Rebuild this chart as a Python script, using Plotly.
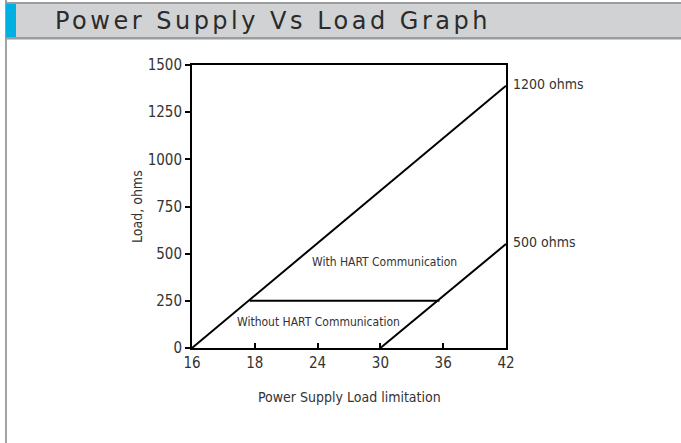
import plotly.graph_objects as go

# ---- data ----
x_tick_labels = ["16", "18", "24", "30", "36", "42"]
x_tick_pos = [0, 1, 2, 3, 4, 5]
y_ticks = [0, 250, 500, 750, 1000, 1250, 1500]

line_1200_x = [0, 5]
line_1200_y = [0, 1390]
line_500_x = [3, 5]
line_500_y = [0, 551]
hart_limit_x = [0.92, 3.94]
hart_limit_y = [250, 250]

W, H = 681, 443
L, R, T, B = 192, 506, 65, 348
FONT = "Liberation Sans Narrow, DejaVu Sans Condensed, Arial Narrow, Liberation Sans, Arial"

def px(x):
    return (x - L) / (R - L)

def py(y):
    return (B - y) / (B - T)

fig = go.Figure()
for xs, ys in [(line_1200_x, line_1200_y), (line_500_x, line_500_y), (hart_limit_x, hart_limit_y)]:
    fig.add_trace(go.Scatter(x=xs, y=ys, mode="lines",
                             line=dict(color="black", width=2), showlegend=False,
                             hoverinfo="skip"))

shapes = [
    dict(type="rect", xref="paper", yref="paper", x0=px(5), x1=px(7), y0=py(0), y1=py(H + 5),
         fillcolor="#a3a4a6", line=dict(width=0), layer="below"),
    dict(type="rect", xref="paper", yref="paper", x0=px(5), x1=px(W + 5), y0=py(2), y1=py(39.5),
         fillcolor="#9b9c9e", line=dict(width=0), layer="below"),
    dict(type="rect", xref="paper", yref="paper", x0=px(7), x1=px(W + 5), y0=py(4), y1=py(37),
         fillcolor="#d1d2d4", line=dict(width=0), layer="below"),
    dict(type="rect", xref="paper", yref="paper", x0=px(6), x1=px(16), y0=py(4), y1=py(37),
         fillcolor="#00b0e2", line=dict(width=0), layer="below"),
]

annotations = [
    dict(text='<span style="letter-spacing:3.5px">Power Supply Vs Load Graph</span>',
         xref="paper", yref="paper",
         x=px(53), y=py(21), xanchor="left", yanchor="middle", showarrow=False,
         font=dict(family="DejaVu Sans, Verdana", size=24, color="#2b2b2b")),
    dict(text="1200 ohms", xref="paper", yref="paper", x=px(511), y=py(84),
         xanchor="left", yanchor="middle", showarrow=False,
         font=dict(family=FONT, size=14, color="#333")),
    dict(text="500 ohms", xref="paper", yref="paper", x=px(511), y=py(242),
         xanchor="left", yanchor="middle", showarrow=False,
         font=dict(family=FONT, size=14, color="#333")),
    dict(text="With HART Communication", xref="paper", yref="paper", x=px(384), y=py(262),
         xanchor="center", yanchor="middle", showarrow=False,
         font=dict(family=FONT, size=12, color="#333")),
    dict(text="Without HART Communication", xref="paper", yref="paper", x=px(318), y=py(322),
         xanchor="center", yanchor="middle", showarrow=False,
         font=dict(family=FONT, size=12, color="#333")),
    dict(text="Power Supply Load limitation", xref="paper", yref="paper", x=px(349), y=py(397),
         xanchor="center", yanchor="middle", showarrow=False,
         font=dict(family=FONT, size=14, color="#333")),
    dict(text="Load, ohms", xref="paper", yref="paper", x=px(137), y=py(207),
         xanchor="center", yanchor="middle", showarrow=False, textangle=-90,
         font=dict(family=FONT, size=14, color="#333")),
]

fig.update_layout(
    width=W, height=H,
    margin=dict(l=L, r=W - R, t=T, b=H - B),
    paper_bgcolor="white", plot_bgcolor="white",
    shapes=shapes, annotations=annotations,
    showlegend=False,
    xaxis=dict(range=[0, 5], tickvals=x_tick_pos, ticktext=x_tick_labels,
               ticks="inside", ticklen=5, tickwidth=2, tickcolor="black",
               showline=True, linecolor="black", linewidth=2, mirror=True,
               showgrid=False, zeroline=False,
               tickfont=dict(family=FONT, size=15, color="#333")),
    yaxis=dict(range=[0, 1500], tickvals=y_ticks,
               ticks="outside", ticklen=5, tickwidth=2, tickcolor="black",
               showline=True, linecolor="black", linewidth=2, mirror=True,
               showgrid=False, zeroline=False,
               tickfont=dict(family=FONT, size=15, color="#333")),
)

fig.write_html("out.html", config={"displayModeBar": False},
               post_script="document.body.style.margin='0';document.body.style.overflow='hidden';")
